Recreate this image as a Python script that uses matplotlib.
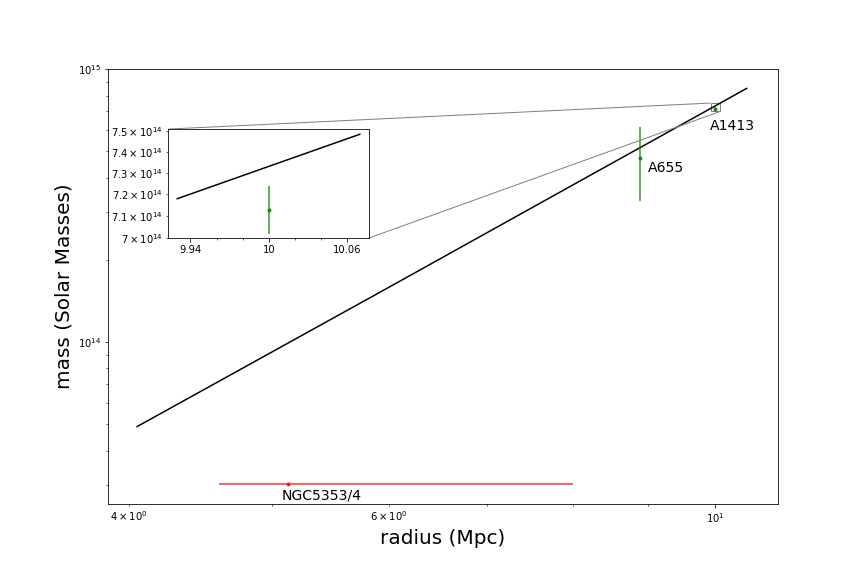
import matplotlib
matplotlib.use("Agg")
import matplotlib.pyplot as plt
from matplotlib.ticker import NullFormatter
from mpl_toolkits.axes_grid1.inset_locator import mark_inset

# linea del modelo
model_radius = [4.05, 6.0, 8.0, 10.0, 10.5]
model_mass = [4.9e13, 1.585e14, 3.76e14, 7.34e14, 8.5e14]

# linea del zoom
zoom_radius = [9.93, 10.07]
zoom_mass = [7.18e14, 7.485e14]

# cumulos
ngc_r = [5.13]
ngc_m = [3.02e13]
ngc_rerr = [[0.53], [2.88]]

a655_r = [8.89]
a655_m = [4.72e14]
a655_merr = [1.42e14]

a1413_r = [10.0]
a1413_m = [7.13e14]
a1413_merr = [0.11e14]

labels = ["NGC5353/4", "A655", "A1413"]
label_pos = [(5.08, 2.65e13), (9.0, 4.2e14), (9.92, 6.0e14)]


def main():
    fig, ax = plt.subplots(figsize=(12, 8), dpi=72)
    fig.subplots_adjust(bottom=0.125)

    ax.plot(model_radius, model_mass, color="k")
    ax.errorbar(ngc_r, ngc_m, xerr=ngc_rerr, fmt=".", color="r", alpha=0.8)
    ax.errorbar(a655_r, a655_m, yerr=a655_merr, fmt=".", color="g", alpha=0.8)
    ax.errorbar(a1413_r, a1413_m, yerr=a1413_merr, fmt=".", color="g",
                alpha=0.8)

    for txt, (x, y) in zip(labels, label_pos):
        ax.text(x, y, txt, fontsize=14)

    ax.set_xscale("log")
    ax.set_yscale("log")
    ax.set_xlim(3.87, 11.02)
    ax.set_ylim(2.55e13, 1e15)
    ax.set_xlabel("radius (Mpc)", fontsize=20)
    ax.set_ylabel("mass (Solar Masses)", fontsize=20)

    # zoom sobre A1413
    axins = ax.inset_axes([0.0896, 0.6115, 0.30, 0.2506])
    axins.plot(zoom_radius, zoom_mass, color="k")
    axins.errorbar(a1413_r, a1413_m, yerr=a1413_merr, fmt=".", color="g",
                   alpha=0.8)
    axins.set_xscale("log")
    axins.set_yscale("log")
    axins.set_xlim(9.923, 10.077)
    axins.set_ylim(7.0e14, 7.51e14)
    axins.set_xticks([9.94, 10.0, 10.06])
    axins.set_xticklabels(["9.94", "10", "10.06"])
    axins.set_xticks([9.96, 9.98, 10.02, 10.04], minor=True)
    axins.xaxis.set_minor_formatter(NullFormatter())
    mark_inset(ax, axins, loc1=2, loc2=4, fc="none", ec="0.5")

    fig.savefig("out.png", dpi=72)


if __name__ == "__main__":
    main()
